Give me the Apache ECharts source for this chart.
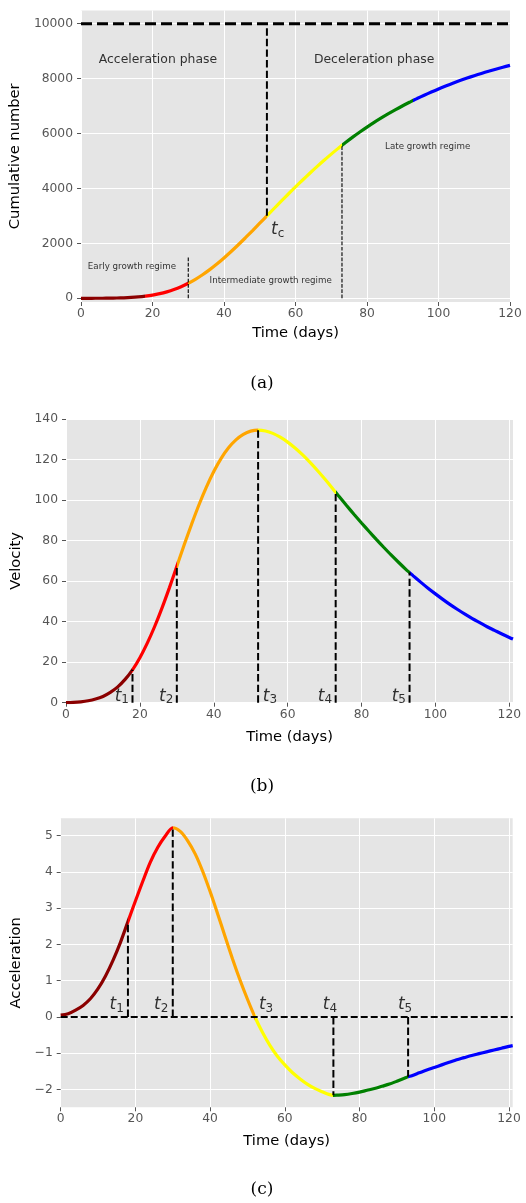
<!DOCTYPE html>
<html>
<head>
<meta charset="utf-8">
<script src="https://cdn.jsdelivr.net/npm/echarts@6/dist/echarts.min.js"></script>
<style>
  html, body { margin: 0; padding: 0; background: #fff; }
  #main { width: 526px; height: 1203px; }
</style>
</head>
<body>
<div id="main"></div>
<script>
var FONT = 'DejaVu Sans';

// regime boundaries t1..t5 and the colour of each segment
var regimeBreaks = [18, 30, 52, 73, 93];
var regimeColors = ['#8b0000', '#ff0000', '#ffa500', '#ffff00', '#008000', '#0000ff'];

// time points (days)
var daysA = [0, 2, 4, 6, 8, 10, 12, 14, 16, 18, 20, 22, 24, 26, 28, 30, 32, 34, 36, 38, 40, 42, 44, 46, 48, 50, 52,
    54, 56, 58, 60, 62, 64, 66, 68, 70, 72, 73, 74, 76, 78, 80, 82, 84, 86, 88, 90, 92, 93,
    94, 96, 98, 100, 102, 104, 106, 108, 110, 112, 114, 116, 118, 120];
var daysBC = daysA.concat([121]);

// (a) cumulative number
var cumulative = [0, 0, 1, 2, 5, 10, 18, 31, 50, 78, 116, 168, 235, 319, 423, 547, 692, 858, 1044, 1248, 1469, 1703, 1950, 2205, 2467, 2734, 3002,
    3270, 3536, 3798, 4056, 4308, 4554, 4794, 5026, 5250, 5465, 5570, 5672, 5868, 6056, 6234, 6405, 6567, 6722, 6870, 7011, 7145, 7210,
    7273, 7395, 7512, 7624, 7729, 7831, 7927, 8019, 8106, 8189, 8268, 8343, 8415, 8483];
var capacity = 10000;
var earlyMarkTop = 1500;

// (b) velocity
var velocity = [0, 0.15, 0.45, 0.95, 1.8, 3.1, 5.1, 7.8, 11.5, 16.2, 22.2, 29.4, 37.6, 46.8, 56.8, 67.3, 77.9, 88.1, 97.7, 106.4, 114.1, 120.6, 125.8, 129.7, 132.4, 134.0, 134.5,
    134.1, 132.9, 131.0, 128.6, 125.7, 122.4, 118.7, 114.7, 110.5, 106.1, 103.8, 101.6, 97.2, 92.9, 88.7, 84.6, 80.6, 76.7, 72.9, 69.3, 65.8, 64.2,
    62.6, 59.5, 56.5, 53.7, 51.0, 48.4, 46.0, 43.7, 41.5, 39.5, 37.5, 35.7, 33.9, 32.2, 31.4];

// (c) acceleration
var acceleration = [0.05, 0.09, 0.19, 0.32, 0.51, 0.78, 1.13, 1.56, 2.06, 2.63, 3.2, 3.75, 4.27, 4.68, 4.99, 5.22, 5.12, 4.86, 4.5, 4.02, 3.46, 2.85, 2.22, 1.6, 1.02, 0.49, 0,
    -0.42, -0.78, -1.08, -1.32, -1.53, -1.7, -1.85, -1.97, -2.06, -2.14, -2.16, -2.155, -2.14, -2.11, -2.07, -2.02, -1.97, -1.91, -1.85, -1.77, -1.69, -1.65,
    -1.62, -1.54, -1.46, -1.39, -1.32, -1.25, -1.18, -1.12, -1.06, -1.01, -0.96, -0.91, -0.86, -0.81, -0.79];

// tick labels
var xTicks = [0, 20, 40, 60, 80, 100, 120];
var yTicksA = [0, 2000, 4000, 6000, 8000, 10000];
var yTicksB = [0, 20, 40, 60, 80, 100, 120, 140];
var yTicksC = [-2, -1, 0, 1, 2, 3, 4, 5];

// text annotations [text, t, value]
var notesBig = [['Acceleration phase', 5.1, 8650], ['Deceleration phase', 65.3, 8650]];
var notesSmall = [['Early growth regime', 2.05, 1116], ['Intermediate growth regime', 36.1, 605], ['Late growth regime', 85.2, 5516]];
var tcNote = [['c', 53.3, 2490]];
var breakNotesB = [['1', 13.3, 3], ['2', 25.3, 3], ['3', 53.4, 3], ['4', 68.3, 3], ['5', 88.3, 3]];
var breakNotesC = [['1', 13.2, 0.33], ['2', 25.1, 0.33], ['3', 53.2, 0.33], ['4', 70.3, 0.33], ['5', 90.4, 0.33]];

function zip(xs, ys) {
    return xs.map(function (x, i) { return [x, ys[i]]; });
}
function at(xs, ys, t) {
    return ys[xs.indexOf(t)];
}

function xAxisFor(idx, max, gap) {
    return {
        type: 'value', gridIndex: idx, min: 0, max: max,
        name: 'Time (days)', nameLocation: 'middle', nameGap: gap,
        nameTextStyle: { color: '#000', fontSize: 14.7, fontFamily: FONT },
        axisLine: { show: false, onZero: false },
        axisTick: { show: true, length: 4, customValues: xTicks, lineStyle: { color: '#555' } },
        axisLabel: { customValues: xTicks, color: '#555', fontSize: 12.3, fontFamily: FONT, margin: 6 },
        splitLine: { show: true, lineStyle: { color: '#fff', width: 1 } }
    };
}
function yAxisFor(idx, min, max, ticks, name, gap) {
    return {
        type: 'value', gridIndex: idx, min: min, max: max,
        name: name, nameLocation: 'middle', nameGap: gap,
        nameTextStyle: { color: '#000', fontSize: 14.7, fontFamily: FONT },
        axisLine: { show: false, onZero: false },
        axisTick: { show: true, length: 4, customValues: ticks, lineStyle: { color: '#555' } },
        axisLabel: {
            customValues: ticks, color: '#555', fontSize: 12.3, fontFamily: FONT, margin: 8,
            formatter: function (v) { return String(v).replace('-', '\u2212'); }
        },
        splitLine: { show: true, lineStyle: { color: '#fff', width: 1 } }
    };
}

function curve(idx, data) {
    return {
        type: 'line', xAxisIndex: idx, yAxisIndex: idx, data: data,
        smooth: 0.3, showSymbol: false, silent: true, z: 3,
        lineStyle: { width: 3.2 }
    };
}
function dashed(idx, pts, width, dash) {
    return {
        type: 'line', xAxisIndex: idx, yAxisIndex: idx, data: pts,
        showSymbol: false, silent: true, z: 4,
        lineStyle: { color: '#000', width: width, type: dash }
    };
}
function notes(idx, items, fmt, rich, size) {
    return {
        type: 'scatter', xAxisIndex: idx, yAxisIndex: idx, silent: true, z: 6,
        symbolSize: 1, itemStyle: { color: 'rgba(0,0,0,0)' },
        data: items.map(function (n) { return { value: [n[1], n[2]], name: n[0] }; }),
        label: {
            show: true, position: [0, 0], align: 'left', verticalAlign: 'middle',
            formatter: fmt, rich: rich, color: '#000', fontSize: size, fontFamily: FONT
        }
    };
}

var subRich = {
    t: { fontStyle: 'italic', fontSize: 17, fontFamily: FONT, color: '#000', lineHeight: 20, verticalAlign: 'middle' },
    s: { fontSize: 12, fontFamily: FONT, color: '#000', lineHeight: 10, verticalAlign: 'bottom' }
};

var pieces = regimeColors.map(function (c, i) {
    var p = { color: c };
    if (i > 0) p.gte = regimeBreaks[i - 1];
    if (i < regimeBreaks.length) p.lt = regimeBreaks[i];
    return p;
});

var series = [
    curve(0, zip(daysA, cumulative)),
    curve(1, zip(daysBC, velocity)),
    curve(2, zip(daysBC, acceleration))
];

// (a) guide lines
var tc = regimeBreaks[2];
series.push(dashed(0, [[0, capacity], [120, capacity]], 3, [11, 5]));
series.push(dashed(0, [[tc, at(daysA, cumulative, tc)], [tc, capacity]], 2, [7.4, 3.2]));
series.push(dashed(0, [[regimeBreaks[1], 0], [regimeBreaks[1], earlyMarkTop]], 1.1, [3.7, 1.6]));
series.push(dashed(0, [[regimeBreaks[3], 0], [regimeBreaks[3], at(daysA, cumulative, regimeBreaks[3])]], 1.1, [3.7, 1.6]));

// (b) guide lines
regimeBreaks.forEach(function (t) {
    series.push(dashed(1, [[t, 0], [t, at(daysBC, velocity, t)]], 2, [7.4, 3.2]));
});
// (c) guide lines
series.push(dashed(2, [[0, 0], [121, 0]], 1.8, [7, 3]));
regimeBreaks.forEach(function (t) {
    var a = at(daysBC, acceleration, t);
    if (a !== 0) series.push(dashed(2, [[t, 0], [t, a]], 2, [7.4, 3.2]));
});

series.push(notes(0, notesBig, '{b}', null, 12.4));
series.push(notes(0, notesSmall, '{b}', null, 8.7));
series.push(notes(0, tcNote, '{t|t}{s|{b}}', subRich, 17));
series.push(notes(1, breakNotesB, '{t|t}{s|{b}}', subRich, 17));
series.push(notes(2, breakNotesC, '{t|t}{s|{b}}', subRich, 17));

var gridStyle = { show: true, backgroundColor: '#e5e5e5', borderWidth: 0 };
var option = {
    animation: false,
    backgroundColor: '#fff',
    grid: [
        Object.assign({ left: 81, top: 10.5, width: 429, height: 291.5 }, gridStyle),
        Object.assign({ left: 66, top: 419, width: 447, height: 283.7 }, gridStyle),
        Object.assign({ left: 60.7, top: 818.3, width: 452, height: 289 }, gridStyle)
    ],
    xAxis: [xAxisFor(0, 120, 24), xAxisFor(1, 121, 27), xAxisFor(2, 121, 26)],
    yAxis: [
        yAxisFor(0, -135, 10480, yTicksA, 'Cumulative number', 54),
        yAxisFor(1, 0, 140, yTicksB, 'Velocity', 38),
        yAxisFor(2, -2.49, 5.48, yTicksC, 'Acceleration', 33)
    ],
    visualMap: {
        type: 'piecewise', show: false, dimension: 0, seriesIndex: [0, 1, 2], pieces: pieces
    },
    graphic: ['(a)', '(b)', '(c)'].map(function (s, i) {
        return {
            type: 'text', x: 262, y: [384, 787, 1190][i],
            style: { text: s, fontSize: 17, fontFamily: 'DejaVu Serif', fill: '#000', align: 'center', verticalAlign: 'middle' }
        };
    }),
    series: series
};

var myChart = echarts.init(document.getElementById('main'));
myChart.setOption(option);
</script>
</body>
</html>
